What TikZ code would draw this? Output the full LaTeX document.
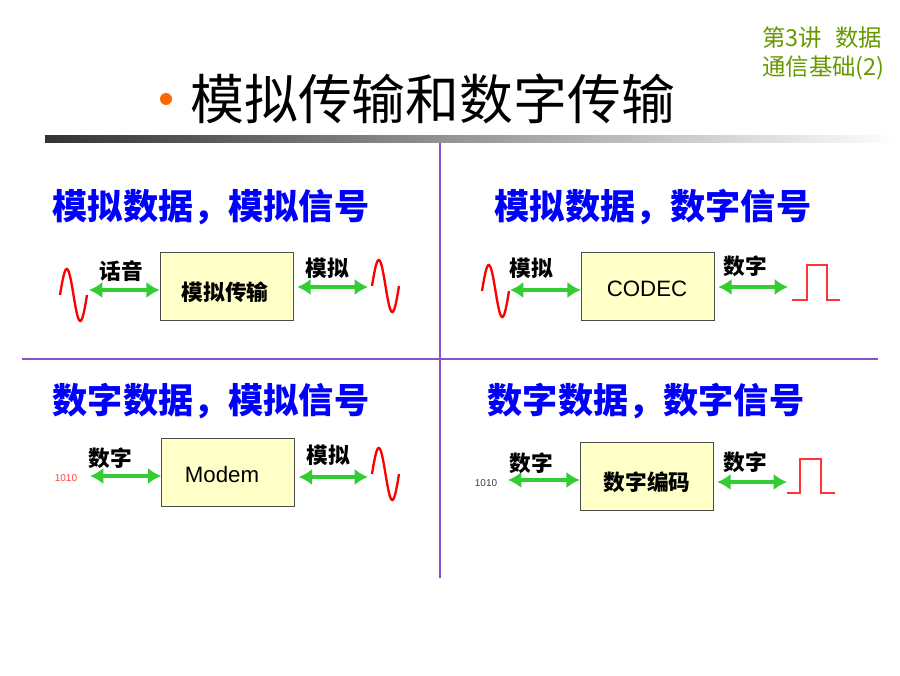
\documentclass[tikz,border=0pt]{standalone}
\usepackage{fontspec}
\setmainfont{Liberation Sans}
\newfontfamily\cjk{Noto Sans CJK SC}
\usetikzlibrary{calc}
\usetikzlibrary{arrows.meta}
\definecolor{lecgreen}{RGB}{102,153,0}
\definecolor{divpurple}{RGB}{140,80,200}
\definecolor{bulletorange}{RGB}{255,102,0}
\definecolor{boxyellow}{RGB}{255,255,200}
\definecolor{lnkgreen}{RGB}{51,204,51}
\definecolor{pulsered}{RGB}{255,51,51}
\tikzset{BOX/.style={draw=black!70,fill=boxyellow,minimum width=3.99cm,minimum height=2.05cm,inner sep=0pt}}
\tikzset{HD/.style={text=blue,font=\cjk\bfseries\fontsize{30}{30}\selectfont,inner sep=0pt}}
\tikzset{LB/.style={font=\cjk\bfseries\fontsize{18.5}{18.5}\selectfont,inner sep=0pt}}
\tikzset{EN/.style={font=\fontsize{19}{19}\selectfont,inner sep=0pt}}
\tikzset{BITS/.style={font=\fontsize{8.5}{8.5}\selectfont,inner sep=0pt}}
\tikzset{LEC/.style={text=lecgreen,font=\cjk\fontsize{20}{20}\selectfont,anchor=west,inner sep=0pt}}
\tikzset{LNK/.style={draw=lnkgreen,line width=4pt,{Latex[length=4mm,width=4.9mm]}-{Latex[length=4mm,width=4.9mm]}}}
\tikzset{WAVE/.style={draw=red,line width=2pt}}
\tikzset{PULSE/.style={draw=pulsered,line width=1.3pt}}

\begin{document}
\begin{tikzpicture}[x=0.03cm,y=-0.03cm]
\useasboundingbox (0,0) rectangle (900,675);

\node[LEC] (lec) at (762,38) {第3讲\hspace{0.55em}数据};
\node[LEC] (sub) at (762,68) {通信基础(2)};
\fill[bulletorange] (166,99) circle (6);
\node[font=\cjk\fontsize{46}{46}\selectfont,anchor=west,inner sep=0pt] (title) at (190,99) {模拟传输和数字传输};
\shade[left color=black!80,right color=white] (45,135) rectangle (900,142);
\draw[divpurple,line width=1.3pt] (440,143) -- (440,578);
\draw[divpurple,line width=1.3pt] (22,359) -- (878,359);

\node[HD] (h1) at (211,207) {模拟数据，模拟信号};
\node[HD] (h2) at (653,207) {模拟数据，数字信号};
\node[HD] (h3) at (211,401) {数字数据，模拟信号};
\node[HD] (h4) at (646,401) {数字数据，数字信号};

\foreach \n/\cx/\cy in {1/226.5/286.5, 2/647.5/286, 3/228/472.5, 4/646.5/476}
  {
 \node[BOX] (b\n) at (\cx,\cy) {};
 }
\node[LB] (t1) at (225,292) {模拟传输};
\node[EN] (t2) at (647,289) {CODEC};
\node[EN] (t3) at (222,475) {Modem};
\node[LB] (t4) at (647,482) {数字编码};

\foreach \n/\lx/\ly/\rx/\ry in {1/89/290/368/287, 2/510/290/788/287, 3/90/476/368/477, 4/508/480/787/482}
  {
 \coordinate (l\n) at (\lx,\ly);
 \coordinate (r\n) at (\rx,\ry);
 \draw[LNK] (l\n) -- (l\n -| b\n.west);
 \draw[LNK] ($(r\n -| b\n.east)+(4,0)$) -- (r\n);
 }

\node[LB] (la1) at (121,271) {话音};
\node[LB] (ra1) at (327,268) {模拟};
\node[LB] (la2) at (531,268) {模拟};
\node[LB] (ra2) at (745,266) {数字};
\node[LB] (la3) at (110,458) {数字};
\node[LB] (ra3) at (328,455) {模拟};
\node[LB] (la4) at (531,463) {数字};
\node[LB] (ra4) at (745,462) {数字};

\foreach \wx/\wy in {60/295, 372/286, 482/291, 372/474}
  {
 \draw[WAVE] plot[domain=0:360,samples=37,smooth] ({\wx+27*\x/360},{\wy-26*sin(\x)});
 }
\draw[PULSE] (792,300) -- ++(15,0) -- ++(0,-35) -- ++(20,0) -- ++(0,35) -- ++(13,0);
\draw[PULSE] (787,493) -- ++(13,0) -- ++(0,-34) -- ++(21,0) -- ++(0,34) -- ++(14,0);

\node[BITS,text=red!75] (bits3) at (66,478) {1010};
\node[BITS,text=black!75] (bits4) at (486,483) {1010};

\end{tikzpicture}
\end{document}
